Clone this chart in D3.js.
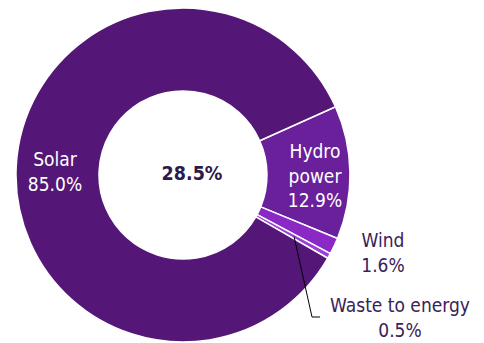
<!DOCTYPE html>
<html>
<head>
<meta charset="utf-8">
<script src="https://cdn.jsdelivr.net/npm/d3@7"></script>
<style>
  html, body { margin: 0; padding: 0; background: #ffffff; }
  svg { display: block; }
  text { font-family: "DejaVu Sans Condensed", "DejaVu Sans", sans-serif; }
</style>
</head>
<body>
<svg id="chart" width="484" height="343"></svg>
<script>
// Renewable energy mix, share of each source (%)
const sources = ["Hydro power", "Wind", "Waste to energy", "Solar"];
const shares = [12.9, 1.6, 0.5, 85.0];
const colors = ["#6a1f9b", "#8a29c6", "#9c3fd6", "#541777"];
const labelLines = [["Hydro", "power", "12.9%"], ["Wind", "1.6%"], ["Waste to energy", "0.5%"], ["Solar", "85.0%"]];
const centerLabel = "28.5%";

const svg = d3.select("#chart");
const cx = 183, cy = 175, outerR = 167, innerR = 84;
const startDeg = 65.9;

const pie = d3.pie().sort(null).value(d => d)
  .startAngle(startDeg * Math.PI / 180)
  .endAngle((startDeg + 360) * Math.PI / 180);
const arcs = pie(shares);
const arc = d3.arc().innerRadius(innerR).outerRadius(outerR);

const g = svg.append("g").attr("transform", `translate(${cx},${cy})`);

g.selectAll("path.slice").data(arcs).join("path")
  .attr("class", "slice")
  .attr("d", arc)
  .attr("fill", (d, i) => colors[i])
  .attr("stroke", "#ffffff")
  .attr("stroke-width", 1.5)
  .attr("stroke-linejoin", "round");

// Centre value
g.append("text")
  .attr("x", 9).attr("y", 5)
  .attr("text-anchor", "middle")
  .attr("font-size", 19.5).attr("font-weight", "bold")
  .attr("fill", "#2e1a4a")
  .text(centerLabel);

// Label placement: offsets relative to the centre, line spacing in px
const lh = 24.5;
const placements = [
  { x: 132, y: -17, fill: "#ffffff" },   // Hydro, inside
  { x: 200, y: 72, fill: "#3a2258" },    // Wind, outside
  { x: 217, y: 137, fill: "#3a2258" },   // Waste, outside
  { x: -128, y: -9, fill: "#ffffff" }    // Solar, inside
];

labelLines.forEach((lines, i) => {
  const p = placements[i];
  const t = g.append("text")
    .attr("text-anchor", "middle")
    .attr("font-size", 19)
    .attr("fill", p.fill);
  lines.forEach((s, j) => {
    t.append("tspan").attr("x", p.x).attr("y", p.y + j * lh).text(s);
  });
});

// Leader line for the smallest slice
const wasteArc = arcs[2];
const wasteMid = (wasteArc.startAngle + wasteArc.endAngle) / 2;
const r0 = 127;
const px = r0 * Math.sin(wasteMid), py = -r0 * Math.cos(wasteMid);
g.append("polyline")
  .attr("points", `${px},${py} ${129},${142} ${137},${142}`)
  .attr("fill", "none")
  .attr("stroke", "#000000")
  .attr("stroke-width", 1);
</script>
</body>
</html>
